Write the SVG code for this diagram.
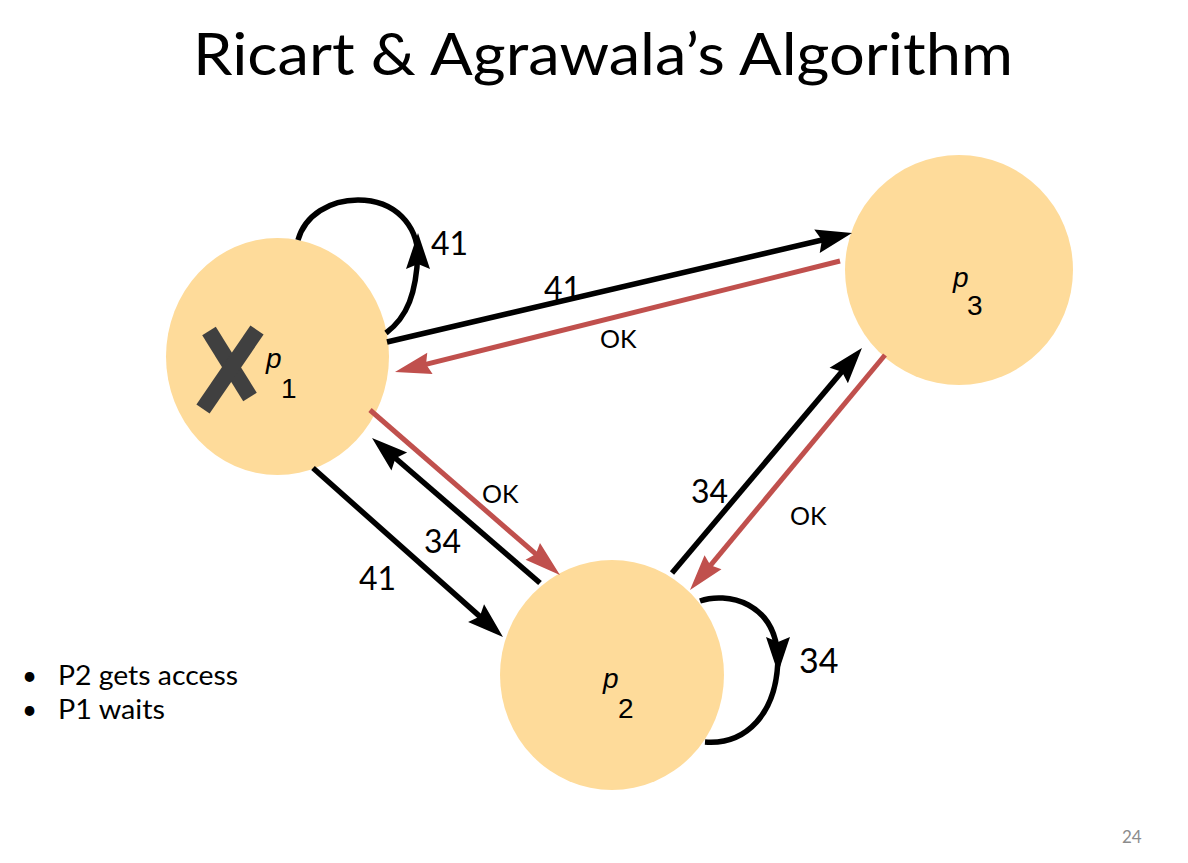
<svg xmlns="http://www.w3.org/2000/svg" width="1188" height="863" viewBox="0 0 1188 863">
  <defs>
    <style>
      .node { fill: #FEDB9A; }
      .lbl { font-family: "Lato", "Liberation Sans", sans-serif; fill: #000; }
      .num { font-size: 32px; }
      .ok { font-size: 25px; }
      .pn { font-family: "Liberation Sans", Arial, sans-serif; font-size: 28px; fill: #000; }
      .blk { fill: none; stroke: #000; stroke-width: 5.5; }
      .red { fill: none; stroke: #C0504D; stroke-width: 5; }
      .blk-a { marker-end: url(#ahBlack); }
      .red-a { marker-end: url(#ahRed); }
    </style>
    <marker id="ahBlack" markerUnits="userSpaceOnUse" markerWidth="40" markerHeight="28" refX="26" refY="12" orient="auto" viewBox="0 0 40 28" overflow="visible">
      <path d="M0,0 L36,12 L0,24 L5,12 z" fill="#000"/>
    </marker>
    <marker id="ahRed" markerUnits="userSpaceOnUse" markerWidth="40" markerHeight="28" refX="26" refY="11" orient="auto" viewBox="0 0 40 28" overflow="visible">
      <path d="M0,0 L36,11 L0,22 L4,11 z" fill="#C0504D"/>
    </marker>
  </defs>

  <rect width="1188" height="863" fill="#fff"/>

  <text x="193" y="75" class="lbl" font-size="58" textLength="820" lengthAdjust="spacingAndGlyphs">Ricart &amp; Agrawala’s Algorithm</text>

  <g id="node-p1">
    <ellipse class="node" cx="277.5" cy="356.5" rx="111.5" ry="118.5"/>
    <g stroke="#404040" stroke-width="16" stroke-linecap="butt">
      <line x1="209" y1="331" x2="250" y2="397"/>
      <line x1="257" y1="330" x2="203" y2="409"/>
    </g>
    <text class="pn" x="266" y="368" font-style="italic">p</text>
    <text class="pn" x="281" y="398">1</text>
  </g>

  <g id="node-p3">
    <ellipse class="node" cx="959" cy="270" rx="114" ry="115"/>
    <text class="pn" x="953" y="287" font-style="italic">p</text>
    <text class="pn" x="967" y="315">3</text>
  </g>

  <g id="node-p2">
    <ellipse class="node" cx="612" cy="675" rx="112" ry="115"/>
    <text class="pn" x="603" y="688" font-style="italic">p</text>
    <text class="pn" x="618" y="718">2</text>
  </g>

  <g id="connectors">
    <!-- p1 self loop -->
    <path class="blk blk-a" d="M386,333 C406,318 418,295 418,243"/>
    <path class="blk" d="M418,258 C418,225 395,200 358,200 C330,200 305,215 298,240"/>
    <!-- p2 self loop -->
    <path class="blk blk-a" d="M700,601 C725,592 778,600 778,663"/>
    <path class="blk" d="M778,655 C778,715 745,745 705,742"/>
    <!-- p1 <-> p3 -->
    <line class="blk blk-a" x1="387" y1="342" x2="842.3" y2="235.3"/>
    <line class="red red-a" x1="840" y1="261" x2="404.7" y2="369.6"/>
    <!-- p1 <-> p2 -->
    <line class="red red-a" x1="370" y1="410" x2="552.4" y2="568.4"/>
    <line class="blk blk-a" x1="540" y1="583" x2="379.6" y2="444.5"/>
    <line class="blk blk-a" x1="313" y1="468" x2="495.5" y2="630.4"/>
    <!-- p2 <-> p3 -->
    <line class="blk blk-a" x1="672" y1="573" x2="855.5" y2="355.6"/>
    <line class="red red-a" x1="885" y1="355" x2="696.4" y2="582.3"/>
  </g>

  <g id="labels">
    <text class="lbl num" x="431" y="255">41</text>
    <text class="lbl num" x="544" y="300">41</text>
    <text class="lbl ok" x="600" y="348">OK</text>
    <text class="lbl ok" x="482" y="503">OK</text>
    <text class="lbl num" x="424" y="553">34</text>
    <text class="lbl num" x="359" y="590">41</text>
    <text class="lbl num" x="691" y="503">34</text>
    <text class="lbl ok" x="790" y="525">OK</text>
    <text class="lbl" font-size="34" x="799" y="673">34</text>
  </g>

  <g id="bullets" class="lbl" font-size="26">
    <text x="22" y="685">•</text>
    <text x="58" y="685" textLength="180" lengthAdjust="spacingAndGlyphs">P2 gets access</text>
    <text x="22" y="719">•</text>
    <text x="58" y="719" textLength="107" lengthAdjust="spacingAndGlyphs">P1 waits</text>
  </g>

  <text x="1122" y="843" font-family="Lato, 'Liberation Sans', sans-serif" font-size="17" fill="#8c8c8c">24</text>
</svg>
